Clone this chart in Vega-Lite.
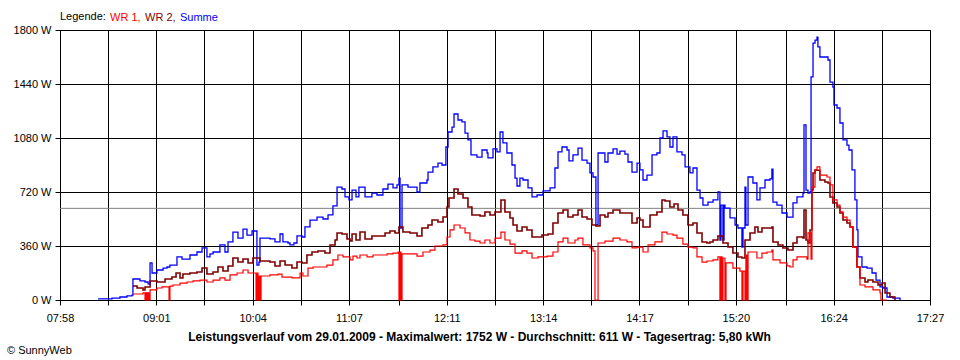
{
"$schema": "https://vega.github.io/schema/vega-lite/v6.json",
"width": 870, "height": 270,
"autosize": {"type": "none"},
"padding": {"left": 60, "top": 30, "right": 30, "bottom": 60},
"background": "#ffffff",
"config": {"font": "Liberation Sans", "view": {"stroke": "#000000"}},
"title": {"text": "© SunnyWeb", "orient": "bottom", "anchor": "start", "frame": "group", "dx": -53, "offset": 3, "fontSize": 11, "fontWeight": "normal", "font": "Liberation Sans", "color": "#000000"},
"datasets": {
"avg": [{"w": 611}],
"summe": [
{"t":502.9,"w":7},{"t":506.1,"w":7},{"t":512.0,"w":13},{"t":517.2,"w":20},{"t":521.8,"w":27},{"t":525.1,"w":33},{"t":525.7,"w":140},{"t":530.3,"w":127},{"t":533.6,"w":120},{"t":535.6,"w":107},{"t":536.9,"w":247},{"t":538.2,"w":180},{"t":541.4,"w":200},{"t":545.4,"w":213},{"t":548.0,"w":220},{"t":549.9,"w":233},{"t":554.5,"w":287},{"t":557.8,"w":273},{"t":563.0,"w":300},{"t":567.6,"w":320},{"t":570.9,"w":347},{"t":574.1,"w":287},{"t":576.1,"w":307},{"t":578.1,"w":320},{"t":582.6,"w":367},{"t":585.9,"w":320},{"t":587.9,"w":387},{"t":591.1,"w":453},{"t":594.4,"w":413},{"t":597.7,"w":473},{"t":600.3,"w":433},{"t":603.6,"w":460},{"t":606.2,"w":460},{"t":606.8,"w":233},{"t":608.1,"w":253},{"t":608.8,"w":413},{"t":615.3,"w":407},{"t":618.6,"w":387},{"t":621.9,"w":440},{"t":623.8,"w":387},{"t":627.1,"w":380},{"t":628.4,"w":367},{"t":631.0,"w":380},{"t":633.0,"w":427},{"t":636.3,"w":420},{"t":638.2,"w":487},{"t":641.5,"w":533},{"t":646.1,"w":553},{"t":650.0,"w":540},{"t":653.3,"w":567},{"t":656.5,"w":627},{"t":659.2,"w":753},{"t":662.4,"w":740},{"t":664.4,"w":687},{"t":667.0,"w":667},{"t":669.0,"w":733},{"t":671.6,"w":687},{"t":673.5,"w":753},{"t":677.5,"w":687},{"t":682.0,"w":713},{"t":685.3,"w":700},{"t":689.2,"w":740},{"t":692.5,"w":773},{"t":695.8,"w":747},{"t":698.4,"w":767},{"t":699.7,"w":813},{"t":700.4,"w":480},{"t":701.7,"w":767},{"t":705.6,"w":753},{"t":708.9,"w":753},{"t":711.5,"w":720},{"t":713.4,"w":780},{"t":718.0,"w":800},{"t":718.7,"w":853},{"t":721.9,"w":887},{"t":725.2,"w":913},{"t":727.8,"w":900},{"t":730.4,"w":1020},{"t":731.8,"w":1120},{"t":734.4,"w":1153},{"t":735.7,"w":1240},{"t":738.3,"w":1200},{"t":740.9,"w":1187},{"t":742.9,"w":1113},{"t":744.8,"w":1067},{"t":746.8,"w":967},{"t":750.7,"w":953},{"t":754.0,"w":1000},{"t":757.3,"w":980},{"t":757.9,"w":947},{"t":761.2,"w":1007},{"t":763.8,"w":987},{"t":765.8,"w":1120},{"t":767.7,"w":1047},{"t":770.3,"w":980},{"t":773.6,"w":900},{"t":775.6,"w":813},{"t":776.9,"w":760},{"t":778.8,"w":813},{"t":780.8,"w":800},{"t":784.1,"w":747},{"t":786.7,"w":687},{"t":790.0,"w":700},{"t":793.9,"w":727},{"t":798.5,"w":747},{"t":801.7,"w":880},{"t":803.7,"w":987},{"t":806.3,"w":1020},{"t":809.6,"w":1000},{"t":810.9,"w":927},{"t":813.5,"w":967},{"t":816.8,"w":1013},{"t":819.4,"w":933},{"t":822.7,"w":913},{"t":824.6,"w":847},{"t":826.6,"w":820},{"t":828.5,"w":500},{"t":829.9,"w":980},{"t":834.4,"w":920},{"t":836.4,"w":980},{"t":839.7,"w":1007},{"t":842.3,"w":973},{"t":844.2,"w":993},{"t":847.5,"w":973},{"t":849.5,"w":920},{"t":852.1,"w":853},{"t":855.4,"w":913},{"t":857.3,"w":867},{"t":859.3,"w":800},{"t":861.9,"w":833},{"t":865.2,"w":967},{"t":868.4,"w":980},{"t":870.4,"w":1080},{"t":872.4,"w":1127},{"t":875.0,"w":1087},{"t":876.9,"w":1020},{"t":878.9,"w":1087},{"t":881.5,"w":987},{"t":884.8,"w":967},{"t":886.8,"w":887},{"t":890.0,"w":847},{"t":892.0,"w":880},{"t":894.6,"w":733},{"t":896.6,"w":680},{"t":898.5,"w":633},{"t":901.8,"w":653},{"t":905.1,"w":667},{"t":908.3,"w":720},{"t":909.6,"w":400},{"t":910.3,"w":633},{"t":911.6,"w":400},{"t":912.3,"w":633},{"t":912.9,"w":613},{"t":916.2,"w":547},{"t":919.5,"w":500},{"t":921.4,"w":480},{"t":924.0,"w":353},{"t":924.7,"w":480},{"t":926.0,"w":753},{"t":926.6,"w":500},{"t":928.0,"w":820},{"t":931.2,"w":780},{"t":933.8,"w":667},{"t":935.8,"w":747},{"t":939.1,"w":800},{"t":942.3,"w":807},{"t":943.6,"w":873},{"t":944.3,"w":653},{"t":946.9,"w":633},{"t":950.2,"w":580},{"t":953.5,"w":553},{"t":955.4,"w":553},{"t":957.4,"w":647},{"t":960.0,"w":687},{"t":963.9,"w":713},{"t":964.6,"w":1167},{"t":965.9,"w":733},{"t":967.2,"w":713},{"t":968.5,"w":720},{"t":969.2,"w":1487},{"t":970.5,"w":1713},{"t":971.8,"w":1733},{"t":973.1,"w":1752},{"t":973.7,"w":1687},{"t":975.0,"w":1620},{"t":978.3,"w":1620},{"t":980.3,"w":1600},{"t":981.6,"w":1453},{"t":983.5,"w":1420},{"t":984.2,"w":1300},{"t":986.2,"w":1280},{"t":988.1,"w":1180},{"t":990.1,"w":1067},{"t":992.7,"w":1033},{"t":994.0,"w":1000},{"t":996.0,"w":867},{"t":997.9,"w":667},{"t":999.2,"w":467},{"t":999.9,"w":287},{"t":1002.5,"w":220},{"t":1005.8,"w":213},{"t":1009.1,"w":180},{"t":1011.7,"w":133},{"t":1014.3,"w":87},{"t":1016.2,"w":80},{"t":1018.9,"w":20},{"t":1022.8,"w":13},{"t":1027.4,"w":0}
],
"wr2": [
{"t":525.7,"w":93},{"t":528.4,"w":80},{"t":532.3,"w":67},{"t":533.6,"w":87},{"t":536.9,"w":127},{"t":541.4,"w":120},{"t":546.7,"w":140},{"t":551.2,"w":153},{"t":553.9,"w":180},{"t":556.5,"w":147},{"t":558.4,"w":173},{"t":563.0,"w":180},{"t":567.6,"w":187},{"t":570.9,"w":213},{"t":574.1,"w":173},{"t":578.1,"w":187},{"t":581.3,"w":220},{"t":584.6,"w":193},{"t":587.9,"w":227},{"t":591.1,"w":280},{"t":594.4,"w":253},{"t":597.7,"w":273},{"t":601.0,"w":247},{"t":604.2,"w":280},{"t":608.8,"w":260},{"t":615.3,"w":253},{"t":618.6,"w":227},{"t":621.9,"w":260},{"t":625.2,"w":233},{"t":629.7,"w":213},{"t":633.0,"w":253},{"t":636.3,"w":247},{"t":639.5,"w":300},{"t":642.8,"w":320},{"t":646.7,"w":327},{"t":651.3,"w":313},{"t":654.6,"w":367},{"t":657.9,"w":400},{"t":659.2,"w":447},{"t":662.4,"w":440},{"t":665.7,"w":407},{"t":667.7,"w":393},{"t":669.0,"w":440},{"t":671.6,"w":400},{"t":674.2,"w":453},{"t":677.5,"w":407},{"t":682.0,"w":427},{"t":686.0,"w":427},{"t":690.6,"w":447},{"t":693.8,"w":460},{"t":697.1,"w":447},{"t":699.7,"w":487},{"t":702.3,"w":453},{"t":706.9,"w":447},{"t":711.5,"w":427},{"t":714.7,"w":480},{"t":718.7,"w":500},{"t":721.3,"w":533},{"t":725.2,"w":520},{"t":728.5,"w":553},{"t":731.1,"w":620},{"t":732.4,"w":680},{"t":735.7,"w":740},{"t":738.3,"w":707},{"t":741.6,"w":680},{"t":744.8,"w":620},{"t":747.4,"w":567},{"t":750.7,"w":567},{"t":752.7,"w":560},{"t":755.9,"w":587},{"t":759.2,"w":567},{"t":762.5,"w":587},{"t":766.4,"w":667},{"t":769.0,"w":587},{"t":772.3,"w":547},{"t":774.3,"w":500},{"t":776.9,"w":460},{"t":780.2,"w":487},{"t":783.4,"w":467},{"t":786.7,"w":420},{"t":790.0,"w":420},{"t":793.2,"w":433},{"t":797.2,"w":440},{"t":800.4,"w":513},{"t":803.7,"w":580},{"t":807.0,"w":600},{"t":810.2,"w":553},{"t":813.5,"w":567},{"t":816.8,"w":600},{"t":819.4,"w":553},{"t":822.7,"w":540},{"t":825.9,"w":500},{"t":828.5,"w":493},{"t":831.2,"w":567},{"t":834.4,"w":553},{"t":836.4,"w":580},{"t":839.7,"w":600},{"t":844.2,"w":580},{"t":848.8,"w":580},{"t":852.1,"w":513},{"t":855.4,"w":547},{"t":857.3,"w":533},{"t":859.3,"w":487},{"t":863.9,"w":567},{"t":868.4,"w":587},{"t":871.7,"w":667},{"t":873.7,"w":660},{"t":876.9,"w":620},{"t":879.6,"w":640},{"t":882.2,"w":600},{"t":885.4,"w":567},{"t":888.7,"w":500},{"t":892.0,"w":513},{"t":894.6,"w":447},{"t":897.9,"w":387},{"t":901.1,"w":380},{"t":903.1,"w":387},{"t":905.1,"w":400},{"t":908.3,"w":427},{"t":911.6,"w":380},{"t":914.9,"w":353},{"t":918.1,"w":313},{"t":921.4,"w":287},{"t":924.0,"w":280},{"t":926.0,"w":400},{"t":929.3,"w":447},{"t":932.5,"w":487},{"t":934.5,"w":453},{"t":937.1,"w":480},{"t":940.4,"w":480},{"t":943.6,"w":487},{"t":944.3,"w":387},{"t":947.6,"w":367},{"t":950.8,"w":347},{"t":954.1,"w":333},{"t":957.4,"w":380},{"t":960.0,"w":420},{"t":963.9,"w":413},{"t":964.6,"w":600},{"t":965.9,"w":400},{"t":967.2,"w":380},{"t":968.5,"w":467},{"t":969.8,"w":733},{"t":970.5,"w":847},{"t":971.8,"w":867},{"t":973.1,"w":865},{"t":975.0,"w":800},{"t":978.3,"w":787},{"t":980.3,"w":780},{"t":981.6,"w":687},{"t":983.5,"w":647},{"t":986.2,"w":620},{"t":988.1,"w":580},{"t":990.1,"w":533},{"t":992.7,"w":513},{"t":994.7,"w":487},{"t":996.6,"w":353},{"t":999.2,"w":220},{"t":1001.2,"w":147},{"t":1004.5,"w":120},{"t":1006.4,"w":133},{"t":1009.7,"w":120},{"t":1013.0,"w":100},{"t":1015.6,"w":113},{"t":1017.6,"w":47},{"t":1020.8,"w":20},{"t":1024.1,"w":0}
],
"wr1": [
{"t":525.7,"w":40},{"t":532.3,"w":47},{"t":533.6,"w":0},{"t":534.2,"w":47},{"t":534.9,"w":0},{"t":535.6,"w":47},{"t":536.2,"w":0},{"t":536.9,"w":67},{"t":541.4,"w":80},{"t":544.7,"w":87},{"t":548.6,"w":87},{"t":549.3,"w":0},{"t":549.9,"w":93},{"t":551.9,"w":100},{"t":556.5,"w":113},{"t":561.1,"w":120},{"t":565.0,"w":127},{"t":569.6,"w":133},{"t":574.1,"w":120},{"t":578.1,"w":133},{"t":582.6,"w":147},{"t":585.9,"w":133},{"t":589.2,"w":167},{"t":593.8,"w":180},{"t":597.7,"w":200},{"t":601.0,"w":180},{"t":604.2,"w":180},{"t":606.2,"w":0},{"t":606.8,"w":180},{"t":607.5,"w":0},{"t":608.1,"w":160},{"t":608.8,"w":0},{"t":609.5,"w":160},{"t":615.3,"w":167},{"t":620.6,"w":173},{"t":623.2,"w":153},{"t":629.7,"w":147},{"t":635.0,"w":180},{"t":636.9,"w":160},{"t":640.2,"w":213},{"t":643.5,"w":220},{"t":648.0,"w":220},{"t":652.6,"w":233},{"t":656.5,"w":267},{"t":659.8,"w":300},{"t":663.1,"w":287},{"t":667.7,"w":267},{"t":669.6,"w":293},{"t":672.2,"w":280},{"t":674.2,"w":300},{"t":678.8,"w":287},{"t":682.7,"w":300},{"t":687.3,"w":300},{"t":691.9,"w":307},{"t":695.8,"w":313},{"t":699.1,"w":320},{"t":699.7,"w":0},{"t":700.4,"w":320},{"t":701.0,"w":0},{"t":701.7,"w":307},{"t":708.9,"w":307},{"t":711.5,"w":293},{"t":715.4,"w":320},{"t":720.0,"w":333},{"t":723.2,"w":360},{"t":728.5,"w":367},{"t":731.1,"w":420},{"t":733.1,"w":467},{"t":735.7,"w":500},{"t":739.6,"w":480},{"t":742.9,"w":447},{"t":746.1,"w":400},{"t":749.4,"w":393},{"t":752.7,"w":380},{"t":755.9,"w":400},{"t":759.2,"w":380},{"t":762.5,"w":413},{"t":766.4,"w":453},{"t":769.0,"w":400},{"t":772.3,"w":373},{"t":775.6,"w":313},{"t":780.2,"w":327},{"t":783.4,"w":313},{"t":786.7,"w":280},{"t":790.6,"w":287},{"t":796.5,"w":293},{"t":800.4,"w":320},{"t":803.7,"w":387},{"t":807.0,"w":413},{"t":810.2,"w":380},{"t":814.8,"w":400},{"t":816.8,"w":413},{"t":820.0,"w":367},{"t":824.6,"w":347},{"t":826.6,"w":327},{"t":827.9,"w":0},{"t":829.9,"w":380},{"t":834.4,"w":393},{"t":839.7,"w":413},{"t":844.2,"w":400},{"t":848.8,"w":387},{"t":852.1,"w":347},{"t":855.4,"w":353},{"t":859.3,"w":320},{"t":862.6,"w":367},{"t":867.1,"w":387},{"t":871.7,"w":453},{"t":875.0,"w":440},{"t":878.9,"w":433},{"t":881.5,"w":413},{"t":885.4,"w":373},{"t":888.7,"w":353},{"t":892.0,"w":347},{"t":894.6,"w":287},{"t":897.9,"w":253},{"t":901.1,"w":260},{"t":905.1,"w":267},{"t":908.3,"w":287},{"t":909.6,"w":0},{"t":910.3,"w":287},{"t":911.0,"w":0},{"t":911.6,"w":280},{"t":912.9,"w":0},{"t":913.6,"w":247},{"t":918.1,"w":213},{"t":922.7,"w":193},{"t":924.0,"w":0},{"t":924.7,"w":193},{"t":926.0,"w":0},{"t":926.6,"w":300},{"t":927.3,"w":0},{"t":928.0,"w":320},{"t":931.2,"w":320},{"t":933.8,"w":280},{"t":937.1,"w":313},{"t":940.4,"w":320},{"t":943.6,"w":333},{"t":944.3,"w":267},{"t":948.9,"w":247},{"t":953.5,"w":227},{"t":955.4,"w":220},{"t":957.4,"w":267},{"t":960.0,"w":287},{"t":963.9,"w":287},{"t":966.5,"w":273},{"t":967.2,"w":447},{"t":969.2,"w":273},{"t":969.8,"w":753},{"t":971.8,"w":867},{"t":973.1,"w":887},{"t":975.0,"w":833},{"t":979.6,"w":820},{"t":981.6,"w":767},{"t":983.5,"w":667},{"t":986.2,"w":633},{"t":988.1,"w":587},{"t":990.1,"w":553},{"t":992.7,"w":533},{"t":994.7,"w":487},{"t":996.6,"w":353},{"t":999.2,"w":220},{"t":1001.2,"w":100},{"t":1004.5,"w":87},{"t":1009.7,"w":67},{"t":1014.3,"w":47},{"t":1014.9,"w":0},{"t":1018.9,"w":0}
]
},
"layer": [
{
"data": {"name": "avg"},
"mark": {"type": "rule", "color": "#808080", "strokeWidth": 1},
"encoding": {"y": {"field": "w", "type": "quantitative"}}
},
{
"data": {"name": "summe"},
"mark": {"type": "line", "interpolate": "step-after", "strokeWidth": 1.3},
"encoding": {
"x": {"field": "t", "type": "quantitative",
"scale": {"domain": [478, 1047], "nice": false, "zero": false},
"axis": {"values": [478,509.5,541,572.5,604,635.5,667,699.5,731,762.5,794,825.5,857,888.5,920,952.5,984,1015.5,1047],
"labelExpr": "datum.value % 1 ? '' : (datum.value < 600 ? '0' : '') + floor(datum.value / 60) + ':' + (datum.value % 60 < 10 ? '0' : '') + (datum.value % 60)",
"grid": true, "gridColor": "#000000", "gridOpacity": 1, "gridWidth": 1,
"domainColor": "#000000", "tickColor": "#000000", "tickSize": 5,
"labelFont": "Liberation Sans", "labelFontSize": 11, "labelColor": "#000000", "labelPadding": 7,
"labelFlush": false, "labelOverlap": false,
"title": "Leistungsverlauf vom 29.01.2009 - Maximalwert: 1752 W - Durchschnitt: 611 W - Tagesertrag: 5,80 kWh",
"titleFont": "Liberation Sans", "titleFontSize": 12, "titleFontWeight": "bold", "titleColor": "#000000",
"titlePadding": 8, "titleX": 419, "titleAlign": "center"}},
"y": {"field": "w", "type": "quantitative",
"scale": {"domain": [0, 1800], "nice": false},
"axis": {"values": [0,360,720,1080,1440,1800], "labelExpr": "datum.value + ' W'",
"grid": true, "gridColor": "#000000", "gridOpacity": 1, "gridWidth": 1,
"domainColor": "#000000", "tickColor": "#000000", "tickSize": 5,
"labelFont": "Liberation Sans", "labelFontSize": 11, "labelColor": "#000000", "labelPadding": 4, "title": null}},
"color": {"datum": "Summe", "type": "nominal",
"scale": {"domain": ["WR 1", "WR 2", "Summe"], "range": ["#ff0000", "#800000", "#0000ff"]},
"legend": {"orient": "none", "legendX": 0, "legendY": -18, "direction": "horizontal",
"title": "Legende:", "titleOrient": "left", "titleFontWeight": "normal", "titleFontSize": 11, "titleColor": "#000000", "titleFont": "Liberation Sans", "titlePadding": 3,
"labelFont": "Liberation Sans", "labelFontSize": 11,
"labelExpr": "datum.label == 'Summe' ? datum.label : datum.label + ','",
"labelColor": {"expr": "datum.value == 'Summe' ? '#0000ff' : datum.value == 'WR 2' ? '#800000' : '#ff0000'"},
"symbolType": "circle", "symbolSize": 0, "symbolStrokeWidth": 0, "symbolOpacity": 0, "labelOffset": -10, "columnPadding": 3, "padding": 0, "rowPadding": 0}}
}
},
{
"data": {"name": "wr2"},
"mark": {"type": "line", "interpolate": "step-after", "strokeWidth": 1.6},
"encoding": {
"x": {"field": "t", "type": "quantitative"},
"y": {"field": "w", "type": "quantitative"},
"color": {"datum": "WR 2", "type": "nominal"}
}
},
{
"data": {"name": "wr1"},
"mark": {"type": "line", "interpolate": "step-after", "strokeWidth": 1.2},
"encoding": {
"x": {"field": "t", "type": "quantitative"},
"y": {"field": "w", "type": "quantitative"},
"color": {"datum": "WR 1", "type": "nominal"}
}
}
]
}
